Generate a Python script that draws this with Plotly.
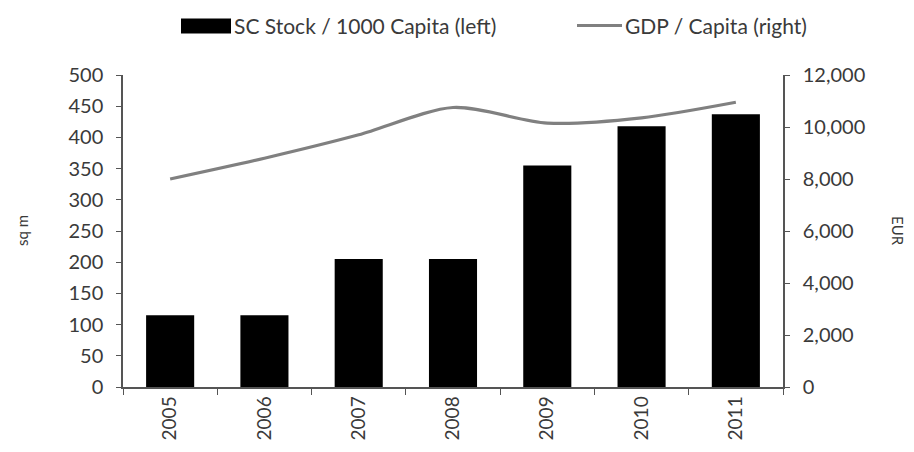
import plotly.graph_objects as go

years = ["2005", "2006", "2007", "2008", "2009", "2010", "2011"]
sc_stock = [115, 115, 205, 205, 355, 418, 437]
gdp_per_capita = [8000, 8800, 9700, 10750, 10150, 10350, 10950]

left_ticks = [0, 50, 100, 150, 200, 250, 300, 350, 400, 450, 500]
right_ticks = [0, 2000, 4000, 6000, 8000, 10000, 12000]

bar_name = "SC Stock / 1000 Capita (left)"
line_name = "GDP / Capita (right)"

FONT = "Lato"
TEXT = "#3a3a3a"
AXIS = "#555555"
LINE = "#808080"

W, H = 914, 452
ML, MR, MT, MB = 123, 131, 75, 62
PW, PH = W - ML - MR, H - MT - MB


def px_x(x):
    """Pixel column -> paper x."""
    return (x - ML) / PW


def px_y(y):
    """Pixel row (from top) -> paper y."""
    return (H - MB - y) / PH


fig = go.Figure()
fig.add_trace(go.Bar(
    x=years, y=sc_stock, name=bar_name, showlegend=False,
    marker=dict(color="#000000", line=dict(width=0)), width=0.51,
))
fig.add_trace(go.Scatter(
    x=years, y=gdp_per_capita, name=line_name, yaxis="y2", showlegend=False,
    mode="lines", line=dict(color=LINE, width=3.2, shape="spline", smoothing=0.8),
))

# legend drawn by hand: wide black swatch and a short grey line
shapes = [
    dict(type="rect", xref="paper", yref="paper",
         x0=px_x(181), x1=px_x(231), y0=px_y(33), y1=px_y(18),
         fillcolor="#000000", line=dict(width=0)),
    dict(type="line", xref="paper", yref="paper",
         x0=px_x(577), x1=px_x(622), y0=px_y(25), y1=px_y(25),
         line=dict(color=LINE, width=3)),
]
annotations = [
    dict(text=bar_name, xref="paper", yref="paper", x=px_x(232), y=px_y(25),
         xanchor="left", yanchor="middle", showarrow=False,
         font=dict(size=21, color=TEXT)),
    dict(text=line_name, xref="paper", yref="paper", x=px_x(623), y=px_y(25),
         xanchor="left", yanchor="middle", showarrow=False,
         font=dict(size=21, color=TEXT)),
    dict(text="sq m", xref="paper", yref="paper", x=px_x(22), y=0.5,
         xanchor="center", textangle=-90, showarrow=False,
         font=dict(size=15, color=TEXT)),
    dict(text="EUR", xref="paper", yref="paper", x=px_x(898), y=0.5,
         xanchor="center", textangle=90, showarrow=False,
         font=dict(size=15, color=TEXT)),
]

fig.update_layout(
    width=W, height=H,
    margin=dict(l=ML, r=MR, t=MT, b=MB),
    paper_bgcolor="white", plot_bgcolor="white",
    font=dict(family=FONT, size=20, color=TEXT),
    showlegend=False,
    xaxis=dict(
        type="category", tickangle=-90, tickson="boundaries",
        ticks="outside", ticklen=6, tickcolor=AXIS, linecolor=AXIS, linewidth=1.5,
        showline=True, showgrid=False, tickfont=dict(size=19, color=TEXT),
    ),
    yaxis=dict(
        range=[0, 500], tickvals=left_ticks, ticks="outside", ticklen=5,
        tickcolor=AXIS, showline=True, linecolor=AXIS, linewidth=1.5,
        showgrid=False, zeroline=False, ticklabelstandoff=9,
        tickfont=dict(size=20, color=TEXT),
    ),
    yaxis2=dict(
        range=[0, 12000], tickvals=right_ticks, tickformat=",d",
        overlaying="y", side="right", ticks="outside", ticklen=5,
        tickcolor=AXIS, showline=True, linecolor=AXIS, linewidth=1.5,
        showgrid=False, zeroline=False, ticklabelstandoff=9,
        tickfont=dict(size=20, color=TEXT),
    ),
    shapes=shapes,
    annotations=annotations,
)

fig.write_html("out.html")
